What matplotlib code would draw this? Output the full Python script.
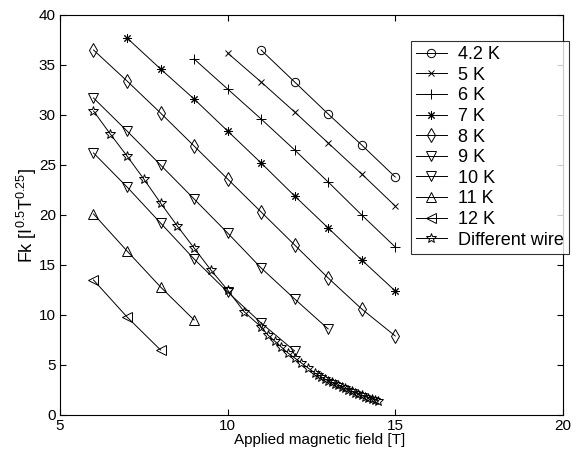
import matplotlib
matplotlib.use('Agg')
import matplotlib.pyplot as plt

plt.rcParams['font.family'] = ['Liberation Sans', 'DejaVu Sans']
plt.rcParams['mathtext.fontset'] = 'custom'
plt.rcParams['mathtext.rm'] = 'Liberation Sans'
plt.rcParams['mathtext.it'] = 'Liberation Sans'

# field values [T] and Kramer function for each temperature
b_42 = [11, 12, 13, 14, 15]
fk_42 = [36.5, 33.3, 30.1, 27.0, 23.8]

b_5 = [10, 11, 12, 13, 14, 15]
fk_5 = [36.2, 33.3, 30.3, 27.2, 24.1, 20.9]

b_6 = [9, 10, 11, 12, 13, 14, 15]
fk_6 = [35.6, 32.6, 29.6, 26.5, 23.3, 20.0, 16.8]

b_7 = [7, 8, 9, 10, 11, 12, 13, 14, 15]
fk_7 = [37.7, 34.6, 31.6, 28.4, 25.2, 21.9, 18.7, 15.5, 12.4]

b_8 = [6, 7, 8, 9, 10, 11, 12, 13, 14, 15]
fk_8 = [36.5, 33.4, 30.2, 26.9, 23.6, 20.3, 17.0, 13.7, 10.6, 7.9]

b_9 = [6, 7, 8, 9, 10, 11, 12, 13]
fk_9 = [31.7, 28.4, 25.0, 21.6, 18.2, 14.7, 11.6, 8.6]

b_10 = [6, 7, 8, 9, 10, 11, 12]
fk_10 = [26.2, 22.8, 19.2, 15.6, 12.3, 9.2, 6.4]

b_11 = [6, 7, 8, 9]
fk_11 = [20.1, 16.4, 12.8, 9.5]

b_12 = [6, 7, 8]
fk_12 = [13.5, 9.8, 6.5]

b_wire = [6, 6.5, 7, 7.5, 8, 8.5, 9, 9.5, 10, 10.5, 11, 11.2, 11.4, 11.6, 11.8,
          12.0, 12.2, 12.4, 12.6, 12.7, 12.8, 12.9, 13.0, 13.1, 13.2, 13.3,
          13.4, 13.5, 13.6, 13.7, 13.8, 13.9, 14.0, 14.1, 14.2, 14.3, 14.4, 14.5]
fk_wire = [30.4, 28.1, 25.9, 23.6, 21.2, 18.9, 16.7, 14.5, 12.5, 10.3, 8.8,
           8.0, 7.4, 6.8, 6.2, 5.7, 5.2, 4.7, 4.2, 4.0, 3.8, 3.6, 3.4, 3.25,
           3.1, 2.95, 2.8, 2.65, 2.5, 2.35, 2.2, 2.08, 1.95, 1.83, 1.72, 1.6,
           1.5, 1.4]

fig = plt.figure(figsize=(5.8, 4.54), dpi=100)
ax = fig.add_axes([0.1034, 0.086, 0.867, 0.881])

kw = dict(color='k', lw=0.7, mfc='none', mec='k', mew=0.7)
ax.plot(b_42, fk_42, marker='o', ms=6, label='4.2 K', **kw)
ax.plot(b_5, fk_5, marker='x', ms=5, label='5 K', **kw)
ax.plot(b_6, fk_6, marker='+', ms=7, label='6 K', **kw)
ax.plot(b_7, fk_7, marker=(8, 2, 0), ms=6, label='7 K', **kw)
ax.plot(b_8, fk_8, marker='d', ms=7, label='8 K', **kw)
ax.plot(b_9, fk_9, marker='v', ms=7, label='9 K', **kw)
ax.plot(b_10, fk_10, marker='v', ms=7, label='10 K', **kw)
ax.plot(b_11, fk_11, marker='^', ms=7, label='11 K', **kw)
ax.plot(b_12, fk_12, marker='<', ms=7, label='12 K', **kw)
ax.plot(b_wire, fk_wire, marker='*', ms=7, label='Different wire', **kw)

ax.set_xlim(5, 20)
ax.set_ylim(0, 40)
ax.set_xticks([5, 10, 15, 20])
ax.set_yticks(range(0, 41, 5))
ax.tick_params(direction='in', top=True, right=True, labelsize=11, length=4, pad=3)
for s in ax.spines.values():
    s.set_linewidth(0.8)

ax.set_xlabel('Applied magnetic field [T]', fontsize=11, labelpad=0)
ax.xaxis.set_label_coords(0.517, -0.045, transform=ax.transAxes)
ax.xaxis.label.set_va('top')
ax.set_ylabel('Fk [I$^{0.5}$T$^{0.25}$]', fontsize=13, labelpad=0)

leg = ax.legend(loc='upper right', bbox_to_anchor=(569 / 580, 1 - 41 / 454),
                bbox_transform=fig.transFigure, fontsize=13,
                frameon=True, fancybox=False, edgecolor='k', handlelength=1.75,
                labelspacing=0.2, borderaxespad=0.0, handletextpad=0.6,
                borderpad=0.28)
leg.get_frame().set_linewidth(0.8)

fig.savefig('out.png', dpi=100)
